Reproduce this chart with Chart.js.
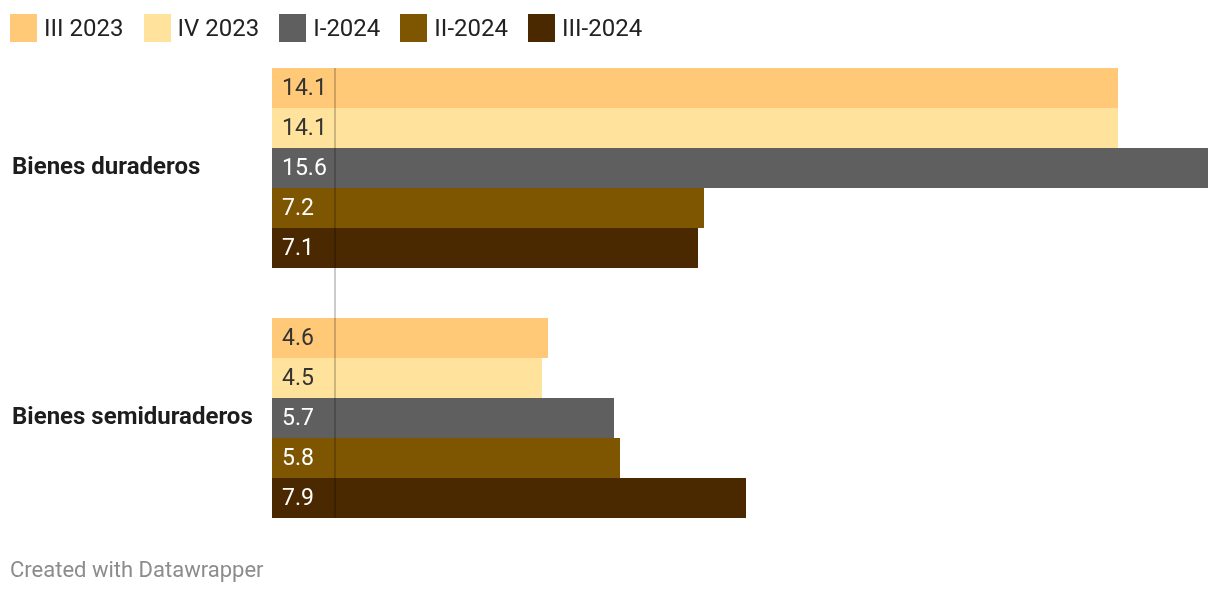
<!DOCTYPE html>
<html>
<head>
<meta charset="utf-8">
<script src="https://cdn.jsdelivr.net/npm/chart.js@4"></script>
<style>
  html, body { margin: 0; padding: 0; background: #fff; }
  body { width: 1220px; height: 596px; position: relative; overflow: hidden; font-family: Roboto, sans-serif; }
  #wrap { position: absolute; left: 0; top: 0; width: 1220px; height: 596px; }
  .legend { position: absolute; left: 10px; top: 14px; display: flex; align-items: center; }
  .legend-item { display: flex; align-items: center; margin-right: 20px; }
  .legend-box { width: 27px; height: 28px; margin-right: 7px; }
  .legend-text { font-size: 24px; color: #222; line-height: 28px; }
  .footer { position: absolute; left: 10px; top: 557px; font-size: 22px; color: #8c8c8c; }
</style>
</head>
<body>
<div id="wrap"><canvas id="barChart" width="1220" height="596"></canvas></div>
<div class="legend" id="legend"></div>
<div class="footer">Created with Datawrapper</div>
<script>
// data
const categories = ['Bienes duraderos', 'Bienes semiduraderos'];
const seriesNames = ['III 2023', 'IV 2023', 'I-2024', 'II-2024', 'III-2024'];
const iii2023 = [14.1, 4.6];
const iv2023 = [14.1, 4.5];
const i2024 = [15.6, 5.7];
const ii2024 = [7.2, 5.8];
const iii2024 = [7.1, 7.9];
const seriesValues = [iii2023, iv2023, i2024, ii2024, iii2024];

const barColors = ['#ffc978', '#ffe39c', '#5f5f5f', '#7e5500', '#4a2800'];
const labelColors = ['#333333', '#333333', '#ffffff', '#ffffff', '#ffffff'];

// legend
function $(selector) {
  return document.querySelector(selector);
}
const legend = $('#legend');
seriesNames.forEach((name, i) => {
  const item = document.createElement('div');
  item.setAttribute('class', 'legend-item');
  const box = document.createElement('div');
  box.setAttribute('class', 'legend-box');
  box.style.background = barColors[i];
  const span = document.createElement('span');
  span.setAttribute('class', 'legend-text');
  span.textContent = name;
  item.appendChild(box);
  item.appendChild(span);
  legend.appendChild(item);
});

// value labels inside bars
const valueLabels = {
  id: 'valueLabels',
  afterDatasetsDraw(chart) {
    const ctx = chart.ctx;
    ctx.save();
    ctx.font = '23px Roboto';
    ctx.textBaseline = 'middle';
    ctx.textAlign = 'left';
    chart.data.datasets.forEach((ds, i) => {
      chart.getDatasetMeta(i).data.forEach((bar, j) => {
        ctx.fillStyle = labelColors[i];
        ctx.fillText(ds.data[j].toFixed(1), bar.base + 10, bar.y + 1);
      });
    });
    ctx.restore();
  }
};

// thin separator line drawn over the bars
const separatorLine = {
  id: 'separatorLine',
  afterDatasetsDraw(chart) {
    const ctx = chart.ctx;
    const x = chart.scales.x.getPixelForValue(1.05);
    const metas = chart.data.datasets.map((d, i) => chart.getDatasetMeta(i));
    const first = metas[0].data[0];
    const last = metas[metas.length - 1].data[categories.length - 1];
    ctx.save();
    ctx.strokeStyle = 'rgba(0,0,0,0.27)';
    ctx.lineWidth = 1.5;
    ctx.beginPath();
    ctx.moveTo(x, first.y - first.height / 2);
    ctx.lineTo(x, last.y + last.height / 2);
    ctx.stroke();
    ctx.restore();
  }
};

new Chart($('#barChart').getContext('2d'), {
  type: 'bar',
  data: {
    labels: categories,
    datasets: seriesNames.map((name, i) => ({
      label: name,
      data: seriesValues[i],
      backgroundColor: barColors[i],
      borderWidth: 0,
      categoryPercentage: 0.8,
      barPercentage: 1.0
    }))
  },
  options: {
    indexAxis: 'y',
    responsive: false,
    animation: false,
    layout: { padding: { top: 43, bottom: 53, left: 12, right: 12 } },
    plugins: {
      legend: { display: false },
      tooltip: { enabled: false }
    },
    scales: {
      x: {
        display: false,
        min: 0,
        max: 15.6
      },
      y: {
        grid: { display: false },
        border: { display: false },
        ticks: {
          crossAlign: 'far',
          color: '#1d1d1d',
          padding: 0,
          font: { family: 'Roboto', size: 24, weight: 'bold' }
        },
        afterFit(scale) {
          scale.width = 260;
        }
      }
    }
  },
  plugins: [valueLabels, separatorLine]
});
</script>
</body>
</html>
